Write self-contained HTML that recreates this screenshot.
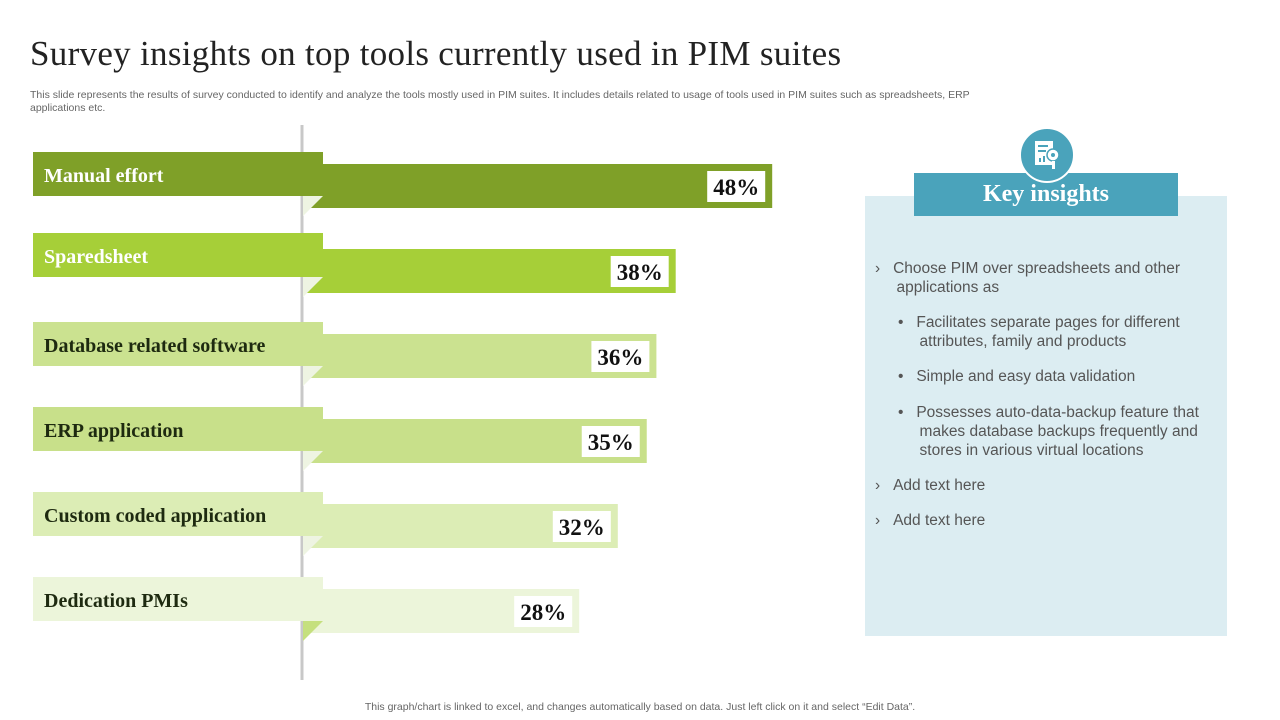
<!DOCTYPE html>
<html><head><meta charset="utf-8">
<style>
body{margin:0;width:1280px;height:720px;background:#fff;overflow:hidden;position:relative;font-family:"Liberation Sans",sans-serif}
.serif{font-family:"Liberation Serif",serif}
#title{position:absolute;left:30px;top:34px;font-size:35px;color:#222;letter-spacing:0.3px}
#sub{position:absolute;left:30px;top:89px;width:990px;font-size:10.5px;color:#666;line-height:13px}
#foot{position:absolute;left:0;width:1280px;top:701px;text-align:center;font-size:10.5px;color:#666}
#panel{position:absolute;left:865px;top:196px;width:362px;height:440px;background:#dcedf2}
#kihead{position:absolute;left:914px;top:173px;width:264px;height:43px;background:#4aa3bb;color:#fff;font-size:24px;font-weight:bold;text-align:center;line-height:43px}
#icon{position:absolute;left:1019px;top:127px;width:56px;height:56px;border-radius:50%;background:#4aa3bb;border:2px solid #fff;box-sizing:border-box}
.it{position:absolute;font-size:15.5px;color:#555;line-height:19px}
</style></head><body>
<div id="title" class="serif">Survey insights on top tools currently used in PIM suites</div>
<div id="sub">This slide represents the results of survey conducted to identify and analyze the tools mostly used in PIM suites. It includes details related to usage of tools used in PIM suites such as spreadsheets, ERP applications etc.</div>
<svg id="chart" width="1280" height="720" style="position:absolute;left:0;top:0">
<line x1="302" y1="125" x2="302" y2="680" stroke="#c8c8c8" stroke-width="3"/>
</svg>
<div id="panel"></div>
<div id="kihead" class="serif">Key insights</div>
<div id="icon">
<svg width="52" height="52" viewBox="0 0 52 52"><rect x="14" y="12" width="18" height="24" fill="#fff"/><rect x="17" y="16" width="10" height="2" fill="#4aa3bb"/><rect x="17" y="21" width="8" height="2" fill="#4aa3bb"/><rect x="18" y="29" width="2" height="4" fill="#4aa3bb"/><rect x="22" y="27" width="2" height="6" fill="#4aa3bb"/><circle cx="32" cy="26" r="6" fill="#fff" stroke="#4aa3bb" stroke-width="1.5"/><circle cx="32" cy="26" r="2" fill="#4aa3bb"/><rect x="31" y="32" width="3" height="8" fill="#fff"/></svg>
</div>
<div class="it" style="left:875px;top:259px;width:330px">›&nbsp;&nbsp;&nbsp;Choose PIM over spreadsheets and other<br>&nbsp;&nbsp;&nbsp;&nbsp;&nbsp;applications as</div>
<div class="it" style="left:898px;top:313px;width:320px">•&nbsp;&nbsp;&nbsp;Facilitates separate pages for different<br>&nbsp;&nbsp;&nbsp;&nbsp;&nbsp;attributes, family and products</div>
<div class="it" style="left:898px;top:367px;width:320px">•&nbsp;&nbsp;&nbsp;Simple and easy data validation</div>
<div class="it" style="left:898px;top:403px;width:320px">•&nbsp;&nbsp;&nbsp;Possesses auto-data-backup feature that<br>&nbsp;&nbsp;&nbsp;&nbsp;&nbsp;makes database backups frequently  and<br>&nbsp;&nbsp;&nbsp;&nbsp;&nbsp;stores in various virtual locations</div>
<div class="it" style="left:875px;top:476px">›&nbsp;&nbsp;&nbsp;Add text here</div>
<div class="it" style="left:875px;top:511px">›&nbsp;&nbsp;&nbsp;Add text here</div>
<div id="foot">This graph/chart is linked to excel,  and changes automatically based on data. Just left click on it and select “Edit Data”.</div>
<script>
const categories=["Manual effort","Sparedsheet","Database related software","ERP application","Custom coded application","Dedication PMIs"];
const values=[48,38,36,35,32,28];
const valueLabels=["48%","38%","36%","35%","32%","28%"];
const colors=["#7fa028","#a6cf38","#cbe290","#c8e08a","#dcedb5","#ecf5da"];
const textColors=["#fff","#fff","#1e2a10","#1e2a10","#1e2a10","#1e2a10"];
const NS="http://www.w3.org/2000/svg";
const svg=document.getElementById('chart');
const x0=303;
function xScale(v){return 309+v*9.65;}
function yBar(i){return 164+i*85;}
function mk(t,a){const e=document.createElementNS(NS,t);for(const k in a)e.setAttribute(k,a[k]);svg.appendChild(e);return e;}
categories.forEach((c,i)=>{
  const y=yBar(i), end=xScale(values[i]);
  const bar=mk('rect',{x:x0,y:y,width:end-x0,height:44,fill:colors[i]});
  
  
  const ty=y-12-(i==1?4:0);
  const fold=mk('polygon',{points:`${x0},${ty+44} ${x0+20},${ty+44} ${x0},${ty+64}`,fill:i==5?'#c5e07e':'#eef4e2'});
  
  
  const tab=mk('rect',{x:33,y:ty,width:290,height:44,fill:colors[i]});
  
  
  const lt=mk('text',{x:44,y:ty+30,fill:textColors[i],'font-family':'Liberation Serif, serif','font-weight':'bold','font-size':'20'});
  lt.textContent=c;
  
  
  const bx=mk('rect',{x:end-65,y:y+7,width:58,height:31,fill:'#fff'});
  
  
  const vt=mk('text',{x:end-36,y:y+31,'text-anchor':'middle',fill:'#111','font-family':'Liberation Serif, serif','font-weight':'bold','font-size':'23'});
  vt.textContent=valueLabels[i];
  
  
});
</script>
</body></html>
